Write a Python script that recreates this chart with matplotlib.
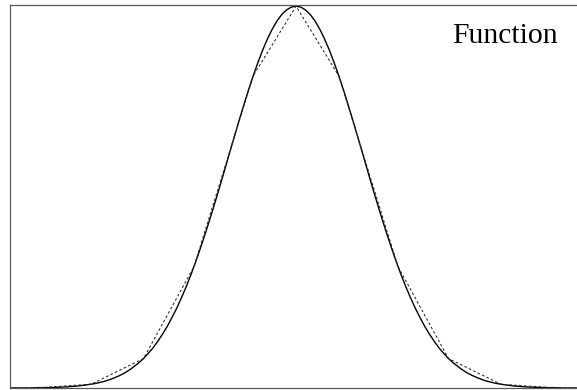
import numpy as np
import matplotlib.pyplot as plt

# exp(-x^2) sampled on [0, 3]; the curve is symmetric about 0
x_half = np.array([0.0, 0.05, 0.1, 0.15, 0.2, 0.25, 0.3, 0.35, 0.4, 0.45, 0.5,
                   0.55, 0.6, 0.65, 0.7, 0.75, 0.8, 0.85, 0.9, 0.95, 1.0,
                   1.05, 1.1, 1.15, 1.2, 1.25, 1.3, 1.35, 1.4, 1.45, 1.5,
                   1.55, 1.6, 1.65, 1.7, 1.75, 1.8, 1.85, 1.9, 1.95, 2.0,
                   2.1, 2.2, 2.3, 2.4, 2.5, 2.6, 2.7, 2.8, 2.9, 3.0])
y_half = np.array([1.000, 0.9975, 0.990, 0.9778, 0.961, 0.9394, 0.914, 0.8847, 0.852, 0.8167, 0.779,
                   0.7390, 0.698, 0.6554, 0.613, 0.5698, 0.527, 0.4856, 0.445, 0.4056, 0.368,
                   0.3320, 0.298, 0.2665, 0.237, 0.2096, 0.185, 0.1616, 0.141, 0.1222, 0.105,
                   0.0905, 0.077, 0.0657, 0.056, 0.0468, 0.039, 0.0326, 0.027, 0.0223, 0.018,
                   0.012, 0.008, 0.005, 0.003, 0.002, 0.001, 0.001, 0.000, 0.000, 0.000])

# piecewise linear approximation through a few knots
knots_half = np.array([0.0, 0.45, 1.07, 1.6, 2.15, 2.7, 3.0])
knot_vals_half = np.array([1.000, 0.817, 0.318, 0.077, 0.0098, 0.0007, 0.0001])

x_fun = np.concatenate([-x_half[:0:-1], x_half])
y_fun = np.concatenate([y_half[:0:-1], y_half])
x_knots = np.concatenate([-knots_half[:0:-1], knots_half])
y_knots = np.concatenate([knot_vals_half[:0:-1], knot_vals_half])

fig = plt.figure(figsize=(5.77, 3.90), dpi=100)
ax = fig.add_axes([10 / 577, 2 / 390, 572 / 577, 383 / 390])

ax.plot(x_fun, y_fun, color='black', lw=1.0)
ax.plot(x_knots, y_knots, color='0.15', lw=0.75, linestyle=(0, (2.5, 2.2)))

ax.set_xlim(-3, 3)
ax.set_ylim(0, 1.003)
ax.set_xticks([])
ax.set_yticks([])
for s in ax.spines.values():
    s.set_color('0.35')
    s.set_linewidth(0.9)

ax.text(0.958, 0.953, 'Function', transform=ax.transAxes, ha='right', va='top',
        fontsize=21.3, family='Liberation Serif')

fig.savefig('out.png', dpi=100)
